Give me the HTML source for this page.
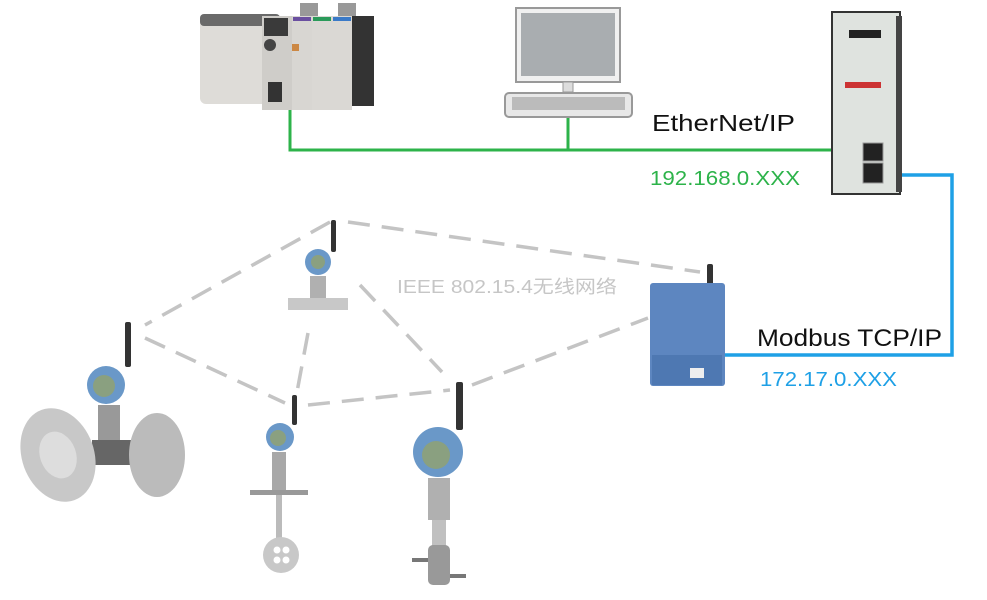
<!DOCTYPE html>
<html><head><meta charset="utf-8"><style>
html,body{margin:0;padding:0;background:#fff;width:987px;height:600px;overflow:hidden}
</style></head><body>
<svg width="987" height="600" viewBox="0 0 987 600" xmlns="http://www.w3.org/2000/svg" font-family="Liberation Sans, Noto Sans CJK SC, sans-serif">
<!-- dashed wireless lines -->
<g stroke="#c4c4c4" stroke-width="3.5" stroke-dasharray="22,12" fill="none">
<line x1="330" y1="222" x2="145" y2="325"/>
<line x1="348" y1="222" x2="700" y2="272"/>
<line x1="145" y1="338" x2="285" y2="403"/>
<line x1="308" y1="333" x2="297" y2="392"/>
<line x1="360" y1="285" x2="442" y2="372"/>
<line x1="308" y1="405" x2="450" y2="390"/>
<line x1="472" y1="385" x2="648" y2="318"/>
</g>
<text x="397" y="293" font-size="18" fill="#c6c6c6" textLength="220" lengthAdjust="spacingAndGlyphs">IEEE 802.15.4无线网络</text>
<!-- green ethernet -->
<polyline points="290,108 290,150 832,150" stroke="#2db34a" stroke-width="3" fill="none"/>
<line x1="568" y1="117" x2="568" y2="150" stroke="#2db34a" stroke-width="3"/>
<!-- blue modbus -->
<polyline points="900,175 952,175 952,355 722,355" stroke="#1ea0e6" stroke-width="3.5" fill="none"/>
<!-- PLC -->
<rect x="300" y="3" width="18" height="14" fill="#999"/><rect x="338" y="3" width="18" height="14" fill="#999"/>
<rect x="200" y="14" width="80" height="90" rx="6" fill="#dedcd8"/>
<rect x="200" y="14" width="80" height="12" rx="4" fill="#6a6a6a"/>
<rect x="262" y="16" width="30" height="94" fill="#cfcdc9"/>
<rect x="264" y="18" width="24" height="18" fill="#3a3a3a"/>
<circle cx="270" cy="45" r="6" fill="#444"/>
<rect x="268" y="82" width="14" height="20" fill="#333"/>
<rect x="292" y="16" width="20" height="94" fill="#d8d6d2"/>
<rect x="312" y="16" width="20" height="94" fill="#dad8d4"/>
<rect x="332" y="16" width="20" height="94" fill="#dad8d4"/>
<rect x="352" y="16" width="22" height="90" fill="#333"/>
<rect x="293" y="17" width="18" height="4" fill="#6a4fa0"/><rect x="313" y="17" width="18" height="4" fill="#2a9a5a"/><rect x="333" y="17" width="18" height="4" fill="#3a7ac8"/>
<rect x="292" y="44" width="7" height="7" fill="#c84"/>
<!-- computer -->
<rect x="516" y="8" width="104" height="74" fill="#f0f0f0" stroke="#999" stroke-width="2"/>
<rect x="521" y="13" width="94" height="63" fill="#a9adb0"/>
<rect x="563" y="82" width="10" height="10" fill="#ddd" stroke="#999"/>
<rect x="505" y="93" width="127" height="24" rx="4" fill="#e8e8e8" stroke="#999" stroke-width="2"/>
<rect x="512" y="97" width="113" height="13" fill="#bbb"/>
<!-- gateway -->
<rect x="832" y="12" width="68" height="182" fill="#dfe3df" stroke="#333" stroke-width="2"/>
<rect x="896" y="16" width="6" height="176" fill="#444"/>
<rect x="849" y="30" width="32" height="8" fill="#222"/>
<rect x="845" y="82" width="36" height="6" fill="#c33"/>
<rect x="863" y="143" width="20" height="18" fill="#222" stroke="#999"/><rect x="863" y="163" width="20" height="20" fill="#222" stroke="#999"/>
<!-- texts -->
<text x="652" y="131" font-size="23" fill="#111" textLength="143" lengthAdjust="spacingAndGlyphs">EtherNet/IP</text>
<text x="650" y="185" font-size="20" fill="#2db34a" textLength="150" lengthAdjust="spacingAndGlyphs">192.168.0.XXX</text>
<text x="757" y="346" font-size="24" fill="#111" textLength="185" lengthAdjust="spacingAndGlyphs">Modbus TCP/IP</text>
<text x="760" y="386" font-size="20" fill="#1ea0e6" textLength="137" lengthAdjust="spacingAndGlyphs">172.17.0.XXX</text>
<!-- gateway blue box -->
<rect x="707" y="264" width="6" height="22" rx="2" fill="#333"/>
<rect x="650" y="283" width="75" height="103" rx="3" fill="#5d86c0"/>
<rect x="652" y="355" width="70" height="30" fill="#4e78b2"/>
<rect x="690" y="368" width="14" height="10" fill="#eee"/>
<!-- transmitters -->
<g>
<rect x="331" y="220" width="5" height="32" rx="2" fill="#333"/>
<circle cx="318" cy="262" r="13" fill="#6a98c8"/><circle cx="318" cy="262" r="7" fill="#8aa080"/>
<rect x="310" y="276" width="16" height="22" fill="#b0b0b0"/>
<rect x="288" y="298" width="60" height="12" fill="#c8c8c8"/>
</g>
<g>
<rect x="125" y="322" width="6" height="45" rx="2" fill="#333"/>
<circle cx="106" cy="385" r="19" fill="#6a98c8"/><circle cx="104" cy="386" r="11" fill="#8aa080"/>
<rect x="98" y="405" width="22" height="40" fill="#999"/>
<rect x="92" y="440" width="40" height="25" fill="#666"/>
<ellipse cx="58" cy="455" rx="36" ry="48" fill="#c8c8c8" transform="rotate(-20 58 455)"/>
<ellipse cx="58" cy="455" rx="18" ry="24" fill="#ddd" transform="rotate(-20 58 455)"/>
<ellipse cx="157" cy="455" rx="28" ry="42" fill="#bbb"/>
</g>
<g>
<rect x="292" y="395" width="5" height="30" rx="2" fill="#333"/>
<circle cx="280" cy="437" r="14" fill="#6a98c8"/><circle cx="278" cy="438" r="8" fill="#8aa080"/>
<rect x="272" y="452" width="14" height="38" fill="#a8a8a8"/>
<rect x="250" y="490" width="58" height="5" fill="#999"/>
<rect x="276" y="495" width="6" height="45" fill="#bbb"/>
<circle cx="281" cy="555" r="18" fill="#c8c8c8"/>
<circle cx="277" cy="550" r="3.5" fill="#fff"/><circle cx="286" cy="550" r="3.5" fill="#fff"/><circle cx="277" cy="560" r="3.5" fill="#fff"/><circle cx="286" cy="560" r="3.5" fill="#fff"/>
</g>
<g>
<rect x="456" y="382" width="7" height="48" rx="2" fill="#333"/>
<circle cx="438" cy="452" r="25" fill="#6a98c8"/><circle cx="436" cy="455" r="14" fill="#8aa080"/>
<rect x="428" y="478" width="22" height="42" fill="#b0b0b0"/>
<rect x="432" y="520" width="14" height="30" fill="#c0c0c0"/>
<rect x="428" y="545" width="22" height="40" rx="5" fill="#999"/>
<rect x="412" y="558" width="16" height="4" fill="#777"/><rect x="450" y="574" width="16" height="4" fill="#777"/>
</g>
</svg>
</body></html>
